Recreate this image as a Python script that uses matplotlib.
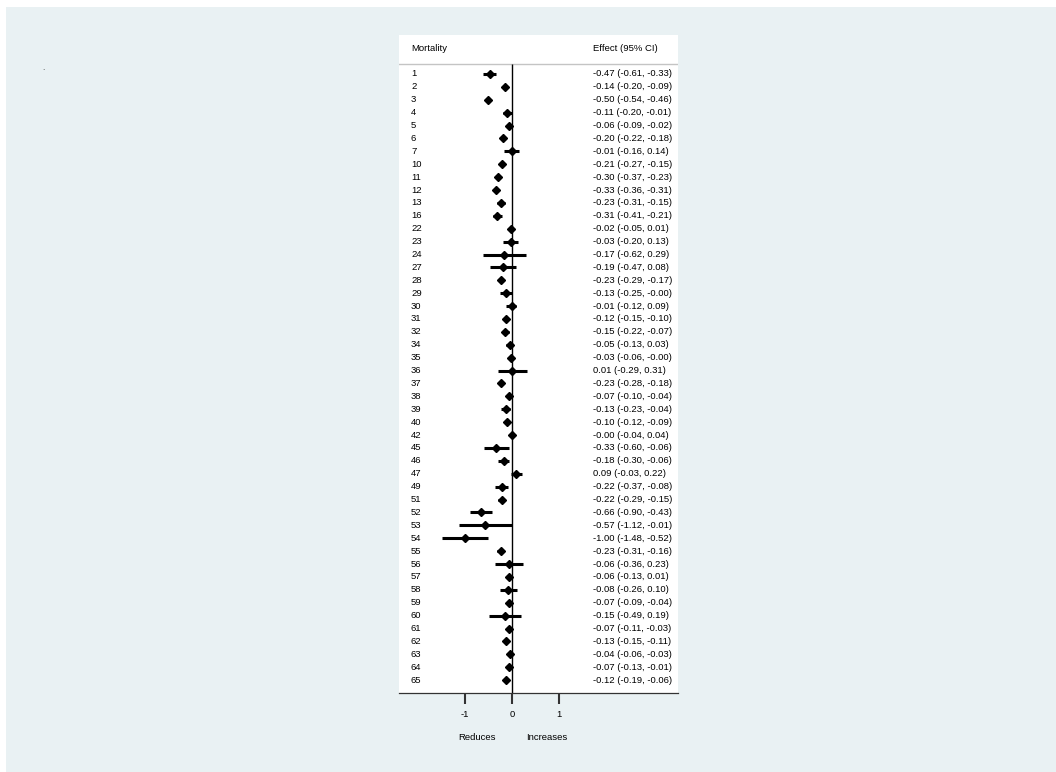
import matplotlib.pyplot as plt
from matplotlib.patches import Rectangle
from matplotlib.transforms import blended_transform_factory

plt.rcParams['font.family'] = ['Liberation Sans', 'DejaVu Sans']

# ---------------------- data ----------------------
study = [1, 2, 3, 4, 5, 6, 7, 10, 11, 12, 13, 16, 22, 23, 24, 27, 28, 29,
         30, 31, 32, 34, 35, 36, 37, 38, 39, 40, 42, 45, 46, 47, 49, 51,
         52, 53, 54, 55, 56, 57, 58, 59, 60, 61, 62, 63, 64, 65]

effect = [-0.47, -0.14, -0.50, -0.11, -0.06, -0.20, -0.01, -0.21, -0.30, -0.33,
          -0.23, -0.31, -0.02, -0.03, -0.17, -0.19, -0.23, -0.13, -0.01, -0.12,
          -0.15, -0.05, -0.03, 0.01, -0.23, -0.07, -0.13, -0.10, -0.0, -0.33,
          -0.18, 0.09, -0.22, -0.22, -0.66, -0.57, -1.00, -0.23, -0.06, -0.06,
          -0.08, -0.07, -0.15, -0.07, -0.13, -0.04, -0.07, -0.12]

ci_low = [-0.61, -0.20, -0.54, -0.20, -0.09, -0.22, -0.16, -0.27, -0.37, -0.36,
          -0.31, -0.41, -0.05, -0.20, -0.62, -0.47, -0.29, -0.25, -0.12, -0.15,
          -0.22, -0.13, -0.06, -0.29, -0.28, -0.10, -0.23, -0.12, -0.04, -0.60,
          -0.30, -0.03, -0.37, -0.29, -0.90, -1.12, -1.48, -0.31, -0.36, -0.13,
          -0.26, -0.09, -0.49, -0.11, -0.15, -0.06, -0.13, -0.19]

ci_high = [-0.33, -0.09, -0.46, -0.01, -0.02, -0.18, 0.14, -0.15, -0.23, -0.31,
           -0.15, -0.21, 0.01, 0.13, 0.29, 0.08, -0.17, -0.0, 0.09, -0.10,
           -0.07, 0.03, -0.0, 0.31, -0.18, -0.04, -0.04, -0.09, 0.04, -0.06,
           -0.06, 0.22, -0.08, -0.15, -0.43, -0.01, -0.52, -0.16, 0.23, 0.01,
           0.10, -0.04, 0.19, -0.03, -0.11, -0.03, -0.01, -0.06]

x_ticks = [-1, 0, 1]

# ---------------------------- figure -----------------------------------
W, H = 1056, 772
fig = plt.figure(figsize=(W / 100, H / 100), dpi=100, facecolor='white')

# light blue graph region (behind the axes)
fig.patches.append(Rectangle((6 / W, 0), 1 - 6 / W, 1 - 7 / H,
                             transform=fig.transFigure, facecolor='#e9f1f3',
                             edgecolor='none', zorder=-10))
fig.text(43 / W, 1 - 68 / H, '.', fontsize=6, color='#333333',
         ha='center', va='center')

# white plot panel (pixel box 399..678 x 35..693)
ax = fig.add_axes([399 / W, (H - 693) / H, (678 - 399) / W, (693 - 35) / H])
ax.set_zorder(5)
ax.set_facecolor('white')

rows = list(range(len(study)))
ax.set_xlim(-2.404, 3.532)
ax.set_ylim(48.0, -3.02)

# confidence intervals and point estimates
ax.hlines(rows, ci_low, ci_high, color='black', linewidth=2.2, zorder=3)
ax.plot(effect, rows, linestyle='none', marker='D', markersize=4.3,
        color='black', zorder=4)

# line of no effect
ax.vlines(0, -0.78, 48.0, color='black', linewidth=1.0, zorder=2)
# header separator
ax.axhline(-0.78, color='#c4c4c4', linewidth=1.0, zorder=1)

tr = blended_transform_factory(ax.transAxes, ax.transData)
fs = 6.8
ax.text(0.043, -1.94, 'Mortality', transform=tr, fontsize=fs,
        ha='left', va='center')
ax.text(0.695, -1.94, 'Effect (95% CI)', transform=tr, fontsize=fs,
        ha='left', va='center')
for i in rows:
    ax.text(0.043, i, str(study[i]), transform=tr, fontsize=fs,
            ha='left', va='center')
    ax.text(0.695, i, f"{effect[i]:.2f} ({ci_low[i]:.2f}, {ci_high[i]:.2f})",
            transform=tr, fontsize=fs, ha='left', va='center')

# axis styling
for side in ['top', 'left', 'right']:
    ax.spines[side].set_visible(False)
ax.spines['bottom'].set_color('#333333')
ax.spines['bottom'].set_linewidth(0.9)
ax.set_yticks([])
ax.set_xticks(x_ticks)
ax.set_xticklabels([str(t) for t in x_ticks])
ax.tick_params(axis='x', direction='out', length=8, width=1.5,
               color='#333333', labelsize=fs, pad=4)

trb = blended_transform_factory(ax.transData, ax.transAxes)
ax.text(-0.745, -44 / 658, 'Reduces', transform=trb, fontsize=fs,
        ha='center', va='center')
ax.text(0.745, -44 / 658, 'Increases', transform=trb, fontsize=fs,
        ha='center', va='center')

fig.savefig('out.png', dpi=100, facecolor=fig.get_facecolor())
